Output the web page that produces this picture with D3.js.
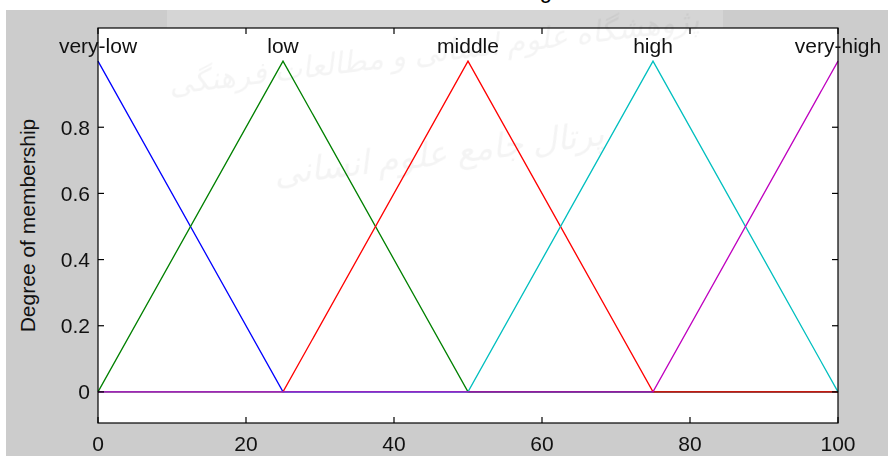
<!DOCTYPE html>
<html>
<head>
<meta charset="utf-8">
<script src="https://cdn.jsdelivr.net/npm/d3@7"></script>
<style>
  html, body { margin: 0; padding: 0; background: #fff; }
  svg { display: block; }
  text { font-family: "Liberation Sans", Arial, Helvetica, sans-serif; }
</style>
</head>
<body>
<svg id="chart" width="888" height="456"></svg>
<script>
// Zugehörigkeitsfunktionen (Dreiecke), Eckpunkte
const mfNames  = ['very-low', 'low', 'middle', 'high', 'very-high'];
const mfColors = ['#0000ff', '#008000', '#ff0000', '#00bfbf', '#bf00bf'];
const mfPeaks  = [0, 25, 50, 75, 100];

const veryLow  = [[0, 1], [25, 0], [100, 0]];
const low      = [[0, 0], [25, 1], [50, 0], [100, 0]];
const middle   = [[0, 0], [25, 0], [50, 1], [75, 0], [100, 0]];
const high     = [[0, 0], [50, 0], [75, 1], [100, 0]];
const veryHigh = [[0, 0], [75, 0], [100, 1]];
const series = [veryLow, low, middle, high, veryHigh];

const xTicks = [0, 20, 40, 60, 80, 100];
const yTicks = [0, 0.2, 0.4, 0.6, 0.8];
const yLabel = 'Degree of membership';

const W = 888, H = 456;
const plot = { left: 98, right: 838, top: 28, bottom: 423 };

const svg = d3.select('#chart');

// Hintergrund
svg.append('rect').attr('x', 6).attr('y', 10).attr('width', W - 6).attr('height', H - 10)
  .attr('fill', '#cccccc');
svg.append('rect').attr('x', 167).attr('y', 10).attr('width', 556).attr('height', 18)
  .attr('fill', '#ffffff').attr('opacity', 0.18);

// abgeschnittener Titel (nur die Unterlänge des "g" ragt ins Bild)
svg.append('text').attr('x', 552).attr('y', -2)
  .attr('text-anchor', 'end').attr('font-size', 22).attr('fill', '#000')
  .text('Setting');

const x = d3.scaleLinear().domain([0, 100]).range([plot.left, plot.right]);
const y = d3.scaleLinear().domain([-0.094, 1.1]).range([plot.bottom, plot.top]);

svg.append('rect')
  .attr('x', plot.left).attr('y', plot.top)
  .attr('width', plot.right - plot.left).attr('height', plot.bottom - plot.top)
  .attr('fill', '#fff');

// Wasserzeichen (sehr blass)
const wm = svg.append('g').attr('font-family', '"DejaVu Sans", sans-serif')
  .attr('fill', '#000').attr('opacity', 0.045).attr('text-anchor', 'middle');
wm.append('text').attr('transform', 'translate(435,62) rotate(-7)')
  .attr('font-size', 30).attr('font-style', 'italic')
  .text('پژوهشگاه علوم انسانی و مطالعات فرهنگی');
wm.append('text').attr('transform', 'translate(440,165) rotate(-7)')
  .attr('font-size', 34).attr('font-style', 'italic')
  .text('پرتال جامع علوم انسانی');

// Kurven
const line = d3.line().x(d => x(d[0])).y(d => y(d[1]));
svg.append('g').attr('class', 'curves')
  .selectAll('path').data(series).join('path')
  .attr('d', line)
  .attr('fill', 'none')
  .attr('stroke', (d, i) => mfColors[i])
  .attr('stroke-width', 1.3);

// Rahmen
svg.append('rect')
  .attr('x', plot.left).attr('y', plot.top)
  .attr('width', plot.right - plot.left).attr('height', plot.bottom - plot.top)
  .attr('fill', 'none').attr('stroke', '#000').attr('stroke-width', 1.2);

// Achsen: Striche nach innen (MATLAB-Stil)
const tickLen = 6;
const ax = svg.append('g').attr('stroke', '#000').attr('stroke-width', 1.2);
xTicks.forEach(t => {
  ax.append('line').attr('x1', x(t)).attr('x2', x(t))
    .attr('y1', plot.bottom).attr('y2', plot.bottom - tickLen);
  ax.append('line').attr('x1', x(t)).attr('x2', x(t))
    .attr('y1', plot.top).attr('y2', plot.top + tickLen);
});
yTicks.forEach(t => {
  ax.append('line').attr('x1', plot.left).attr('x2', plot.left + tickLen)
    .attr('y1', y(t)).attr('y2', y(t));
  ax.append('line').attr('x1', plot.right).attr('x2', plot.right - tickLen)
    .attr('y1', y(t)).attr('y2', y(t));
});

svg.append('g').selectAll('text').data(xTicks).join('text')
  .attr('x', d => x(d)).attr('y', 451)
  .attr('text-anchor', 'middle').attr('font-size', 21).attr('fill', '#111')
  .text(d => d);

svg.append('g').selectAll('text').data(yTicks).join('text')
  .attr('x', plot.left - 8).attr('y', d => y(d)).attr('dy', '0.36em')
  .attr('text-anchor', 'end').attr('font-size', 21).attr('fill', '#111')
  .text(d => d);

svg.append('text')
  .attr('transform', `translate(35,${(plot.top + plot.bottom) / 2}) rotate(-90)`)
  .attr('text-anchor', 'middle').attr('font-size', 21).attr('fill', '#111')
  .text(yLabel);

// Namen der Zugehörigkeitsfunktionen über den Spitzen
svg.append('g').selectAll('text').data(mfNames).join('text')
  .attr('x', (d, i) => x(mfPeaks[i])).attr('y', 53)
  .attr('text-anchor', 'middle').attr('font-size', 21).attr('fill', '#111')
  .text(d => d);
</script>
</body>
</html>
